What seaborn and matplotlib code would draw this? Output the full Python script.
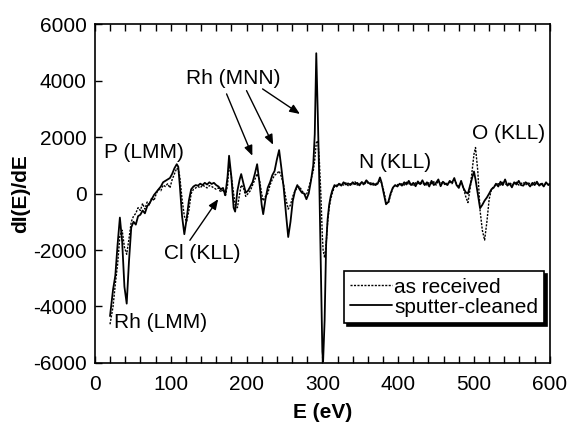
import matplotlib
matplotlib.use('Agg')
import matplotlib.pyplot as plt
import pandas as pd
import seaborn as sns

energy = [20, 24, 27, 30, 33, 36, 39, 42, 45, 48, 51, 54, 57, 60, 63, 66, 69, 72, 75, 78,
          81, 84, 87, 90, 93, 96, 99, 102, 105, 108,
          110, 112, 115, 118, 121, 124, 127, 130, 133, 136, 139, 142, 145, 148, 151, 154,
          157, 160, 163, 166, 169, 172,
          175, 177, 180, 183, 185, 188, 191, 193, 196, 199, 202, 205, 208, 211, 214, 217,
          220, 222, 225, 228, 231, 234, 237, 240, 243, 246, 249, 252, 255, 258, 261, 264,
          267, 270, 273, 276, 279,
          282, 285, 288, 290, 292, 294, 296, 298, 300, 301, 303, 305, 307, 309, 311, 313,
          316, 319, 322, 325, 328, 331, 334, 337, 340, 343, 346, 349, 352, 355, 358, 361,
          364, 367, 370, 373,
          376, 378, 381, 384, 387, 390, 393,
          396, 399, 402, 405, 408, 411, 414, 417, 420, 423, 426, 429, 432, 435, 438, 441,
          444, 447, 450, 453, 456, 459, 462, 465, 468, 471, 474, 477, 480,
          483, 486, 489, 492, 495, 498, 500, 502, 505, 508, 511, 514, 517, 520, 523,
          526, 529, 532, 535, 538, 541, 544, 547, 550, 553, 556, 559, 562, 565, 568, 571,
          574, 577, 580, 583, 586, 589, 592, 595, 598, 600]

sputter_cleaned = [-4340, -3400, -2900, -1800, -850, -1700, -3300, -3900, -2400, -1200,
                   -1000, -1100, -800, -750, -600, -700, -450, -350, -200, -50,
                   50, 150, 250, 400, 450, 500, 550, 700, 900, 1040,
                   950, 300, -800, -1440, -900, -250, 150, 250, 300, 280, 350, 300, 380, 320,
                   400, 340, 380, 300, 250, 150, 200, -50,
                   600, 1340, 600, -500, -640, 100, 500, 690, 350, 30, 100, 250, 400, 700,
                   1040, 400, -400, -730, -200, 210, 400, 650, 800, 1200, 1540, 900, 210,
                   -700, -1540, -1000, -260, 100, 300, 150, 30, 0, -200,
                   0, 450, 1000, 2100, 4970, 2800, 400, -2500, -5600, -5950, -4500, -1800,
                   -900, -400, -100, 100,
                   300, 250, 350, 280, 400, 320, 360, 300, 400, 330, 380, 290, 410, 340,
                   470, 380, 320, 360, 300, 350,
                   570, 400, 0, -380, -300, 0, 210,
                   300, 250, 350, 280, 400, 320, 450, 300, 380, 260, 430, 330, 470, 300,
                   400, 250, 450, 300, 380, 500, 260, 420, 350, 300, 450, 380, 550, 300, 200,
                   450, 200, 50, 0, 300, 600, 780, 500, 0, -520, -400, -250, -140, 0, 150,
                   210, 350, 250, 420, 300, 500, 280, 350, 220, 400, 320, 450, 300, 280,
                   400, 350, 250, 380, 300, 420, 280, 350, 250, 400, 300, 350]

as_received = [-4630, -4000, -3200, -2500, -1500, -1300, -1900, -2150, -1600, -1000,
               -800, -700, -500, -600, -350, -550, -300, -400, -150, -250,
               0, 150, 100, 300, 250, 350, 200, 500, 700, 900,
               850, 600, -200, -800, -1000, -600, 0, 150, 200, 250, 200, 300, 250, 200,
               280, 250, 200, 150, 200, 50, 150, -100,
               300, 1050, 600, 0, -400, -500, 0, 300, 200, -100, 0, 100, 300, 500,
               700, 500, 0, -260, -100, 0, 300, 500, 650, 700, 800, 600, 300,
               -200, -550, -400, -100, 100, 200, 250, 100, 0, -50,
               200, 500, 800, 1200, 1800, 1870, 1200, 0, -1500, -2000, -2270, -1800,
               -1000, -500, -200, 0,
               250, 300, 280, 350, 300, 380, 280, 350, 320, 420, 300, 350, 380, 300,
               420, 350, 380, 300, 330, 400,
               450, 380, 100, -300, -350, -50, 200,
               280, 320, 300, 350, 300, 400, 350, 330, 300, 380, 350, 400, 320, 380,
               300, 400, 350, 420, 300, 450, 350, 400, 300, 380, 400, 350, 480, 350, 250,
               400, 200, -100, -320, 200, 900, 1400, 1630, 800, -600, -1300, -1650, -1000,
               -200, 150,
               250, 300, 350, 300, 400, 350, 300, 400, 300, 350, 400, 300, 350, 400,
               300, 380, 350, 300, 400, 350, 300, 380, 300, 350, 320, 300]

assert len(energy) == len(sputter_cleaned) == len(as_received)

df = pd.DataFrame({'E': energy, 'as received': as_received,
                   'sputter-cleaned': sputter_cleaned})

sns.set_style('ticks')
plt.rcParams['font.family'] = ['Liberation Sans', 'DejaVu Sans']
plt.rcParams['axes.unicode_minus'] = False
plt.rcParams['text.color'] = 'black'
plt.rcParams['axes.labelcolor'] = 'black'
fs = 15

fig = plt.figure(figsize=(5.68, 4.24), dpi=100)
ax = fig.add_axes([0.167, 0.144, 0.801, 0.799])

sns.lineplot(data=df, x='E', y='as received', ax=ax, color='black', lw=1.0,
             linestyle=(0, (1.5, 1.0)), label='as received', sort=False, estimator=None)
sns.lineplot(data=df, x='E', y='sputter-cleaned', ax=ax, color='black', lw=1.3,
             label='sputter-cleaned', sort=False, estimator=None)

ax.set_xlim(0, 600)
ax.set_ylim(-6000, 6000)
ax.set_xticks(range(0, 601, 100))
ax.set_xticks(range(0, 601, 20), minor=True)
ax.set_yticks(range(-6000, 6001, 2000))
ax.tick_params(axis='x', which='both', direction='in', top=True, length=5, width=1,
               labelsize=fs, pad=9, colors='black')
ax.tick_params(axis='y', direction='in', length=5, width=1, labelsize=fs, pad=6,
               colors='black')
for s in ax.spines.values():
    s.set_linewidth(1.2)
    s.set_color('black')

ax.set_xlabel('E (eV)', fontsize=fs, fontweight='bold', labelpad=6)
ax.set_ylabel('dI(E)/dE', fontsize=fs, fontweight='bold', labelpad=2)

# Etiquettes des pics
ax.text(64.6, 1445, 'P (LMM)', fontsize=fs, ha='center', va='center')
ax.text(183, 4070, 'Rh (MNN)', fontsize=fs, ha='center', va='center')
ax.text(141, -2140, 'Cl (KLL)', fontsize=fs, ha='center', va='center')
ax.text(87, -4580, 'Rh (LMM)', fontsize=fs, ha='center', va='center')
ax.text(395.6, 1100, 'N (KLL)', fontsize=fs, ha='center', va='center')
ax.text(546, 2110, 'O (KLL)', fontsize=fs, ha='center', va='center')

arrow = dict(arrowstyle='-|>,head_length=0.6,head_width=0.25', color='black', lw=1,
             shrinkA=0, shrinkB=0)
ax.annotate('', xy=(162.6, -200), xytext=(125.3, -1655), arrowprops=arrow)
ax.annotate('', xy=(207.7, 1340), xytext=(173.7, 3530), arrowprops=arrow)
ax.annotate('', xy=(235.1, 1730), xytext=(200, 3646), arrowprops=arrow)
ax.annotate('', xy=(270.4, 2820), xytext=(221.2, 3706), arrowprops=arrow)

leg = ax.legend(loc='lower right', bbox_to_anchor=(0.988, 0.118), borderaxespad=0,
                fontsize=fs, frameon=True, fancybox=False, handlelength=2.0,
                handletextpad=0.1, labelspacing=0.05, borderpad=0.3,
                shadow={'color': 'black', 'alpha': 1})
leg.get_frame().set_edgecolor('black')
leg.get_frame().set_linewidth(1.2)
leg.get_frame().set_alpha(1)

fig.savefig('out.png', dpi=100)
